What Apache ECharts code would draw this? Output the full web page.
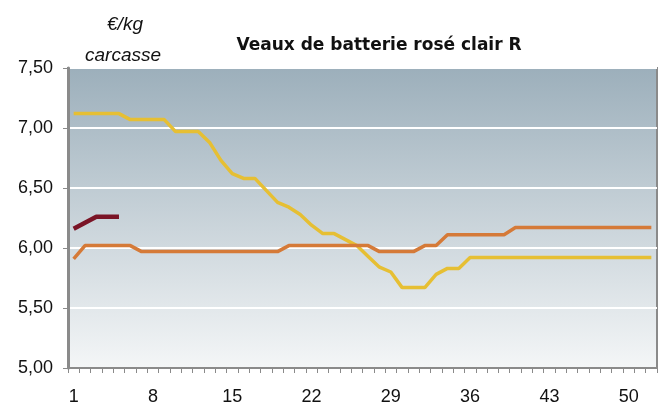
<!DOCTYPE html>
<html><head><meta charset="utf-8">
<script src="https://cdn.jsdelivr.net/npm/echarts@6/dist/echarts.min.js"></script>
<style>html,body{margin:0;padding:0;background:#fff}#c{width:667px;height:410px}</style>
</head><body><div id="c"></div>
<script>
const weeks = Array.from({length:52},(_,i)=>String(i+1));
const yellowSeries = [7.12,7.12,7.12,7.12,7.12,7.07,7.07,7.07,7.07,6.97,6.97,6.97,6.88,6.73,6.62,6.58,6.58,6.48,6.38,6.34,6.28,6.19,6.12,6.12,6.07,6.02,5.93,5.84,5.80,5.67,5.67,5.67,5.78,5.83,5.83,5.92,5.92,5.92,5.92,5.92,5.92,5.92,5.92,5.92,5.92,5.92,5.92,5.92,5.92,5.92,5.92,5.92];
const orangeSeries = [5.91,6.02,6.02,6.02,6.02,6.02,5.97,5.97,5.97,5.97,5.97,5.97,5.97,5.97,5.97,5.97,5.97,5.97,5.97,6.02,6.02,6.02,6.02,6.02,6.02,6.02,6.02,5.97,5.97,5.97,5.97,6.02,6.02,6.11,6.11,6.11,6.11,6.11,6.11,6.17,6.17,6.17,6.17,6.17,6.17,6.17,6.17,6.17,6.17,6.17,6.17,6.17];
const darkSeries = [6.16,6.21,6.26,6.26,6.26];
const yTicks = [5.00,5.50,6.00,6.50,7.00,7.50];

const chart = echarts.init(document.getElementById('c'));
chart.setOption({
  animation:false,
  backgroundColor:'#fff',
  title:[
    {text:'Veaux de batterie rosé clair R',left:374,top:32,textAlign:'center',textStyle:{fontFamily:'DejaVu Sans',fontSize:17,fontWeight:'bold',color:'#111'}},
    {text:'€/kg',left:120,top:10,textAlign:'center',textStyle:{fontFamily:'Liberation Sans',fontSize:19,fontStyle:'italic',fontWeight:'normal',color:'#111'}},
    {text:'carcasse',left:118,top:41,textAlign:'center',textStyle:{fontFamily:'Liberation Sans',fontSize:19,fontStyle:'italic',fontWeight:'normal',color:'#111'}}
  ],
  grid:{left:68,right:10,top:68,bottom:42,show:true,borderColor:'#8a8a8a',borderWidth:2,
    backgroundColor:new echarts.graphic.LinearGradient(0,0,0,1,[{offset:0,color:'#9cafbb'},{offset:1,color:'#f4f6f7'}])},
  xAxis:{type:'category',data:weeks,boundaryGap:true,
    axisLine:{lineStyle:{color:'#8a8a8a',width:2}},
    axisTick:{show:true,interval:0,length:5,lineStyle:{color:'#8a8a8a'}},
    axisLabel:{interval:6,margin:20,fontFamily:'Liberation Sans',fontSize:18,color:'#111'},
    splitLine:{show:false}},
  yAxis:{type:'value',min:5,max:7.5,interval:0.5,
    axisLine:{show:true,lineStyle:{color:'#8a8a8a',width:3}},
    axisTick:{show:true,length:5,lineStyle:{color:'#8a8a8a'}},
    axisLabel:{margin:15,fontFamily:'Liberation Sans',fontSize:18,color:'#111',formatter:v=>v.toFixed(2).replace('.',',')},
    splitLine:{lineStyle:{color:'#ffffff',width:2}}},
  series:[
    {type:'line',data:yellowSeries,symbol:'none',lineStyle:{color:'#e6bf33',width:3.5},z:2},
    {type:'line',data:orangeSeries,symbol:'none',lineStyle:{color:'#d57a38',width:3.5},z:3},
    {type:'line',data:darkSeries,symbol:'none',lineStyle:{color:'#7a1426',width:4.5},z:4}
  ]
});
</script></body></html>
